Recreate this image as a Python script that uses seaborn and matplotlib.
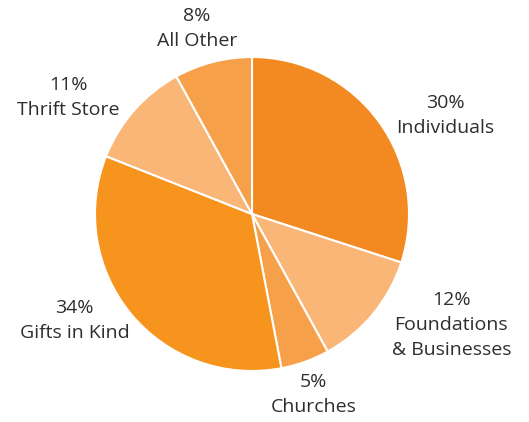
import matplotlib
matplotlib.use("Agg")
import matplotlib.pyplot as plt
import seaborn as sns

categories = ["Individuals", "Foundations\n& Businesses", "Churches", "Gifts in Kind", "Thrift Store", "All Other"]
values = [30, 12, 5, 34, 11, 8]
pct_labels = ["30%", "12%", "5%", "34%", "11%", "8%"]
colors = ["#F28A21", "#F9B677", "#F6A04A", "#F7941E", "#F9B677", "#F6A04A"]

sns.set_theme(style="white")
plt.rcParams['font.family'] = ['Open Sans', 'DejaVu Sans']

fig = plt.figure(figsize=(5.29, 4.22), dpi=100)
ax = fig.add_axes([0, 0, 1, 1])
ax.pie(values, colors=colors, startangle=90, counterclock=False, radius=1,
       center=(0, 0), wedgeprops=dict(edgecolor="white", linewidth=1.5))
ax.set_xlim(-252 / 157, 277 / 157)
ax.set_ylim(-208 / 157, 214 / 157)
ax.set_aspect("auto")
ax.axis("off")

label_pos = [(1.23, 0.63), (1.27, -0.71), (0.39, -1.15), (-1.13, -0.68), (-1.17, 0.74), (-0.35, 1.18)]
for (x, y), p, c in zip(label_pos, pct_labels, categories):
    ax.text(x, y, p + "\n" + c, ha="center", va="center", fontsize=14,
            color="#2e2e2e", linespacing=1.5)

fig.savefig("out.png", dpi=100)
